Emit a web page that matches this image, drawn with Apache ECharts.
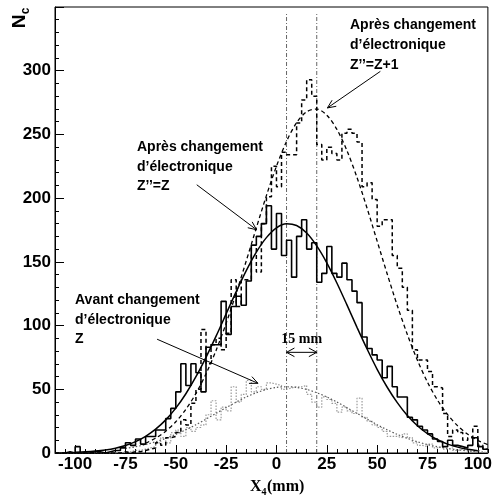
<!DOCTYPE html>
<html><head><meta charset="utf-8">
<script src="https://cdn.jsdelivr.net/npm/echarts@6/dist/echarts.min.js"></script>
<style>html,body{margin:0;padding:0;background:#fff}#c{width:495px;height:500px}</style>
</head><body><div id="c"></div>
<script>
// ---- data ----
const binLeft = [-110,-107.5,-105,-102.5,-100,-97.5,-95,-92.5,-90,-87.5,-85,-82.5,-80,-77.5,-75,-72.5,-70,-67.5,-65,-62.5,
  -60,-57.5,-55,-52.5,-50,-47.5,-45,-42.5,-40,-37.5,-35,-32.5,-30,-27.5,-25,-22.5,-20,-17.5,-15,-12.5,
  -10,-7.5,-5,-2.5,0,2.5,5,7.5,10,12.5,15,17.5,20,22.5,25,27.5,30,32.5,35,37.5,
  40,42.5,45,47.5,50,52.5,55,57.5,60,62.5,65,67.5,70,72.5,75,77.5,80,82.5,85,87.5,
  90,92.5,95,97.5,100,102.5];
const binRight = 105;
// Après changement d'électronique Z''=Z (solid)
const histZZ = [0,0,1,0,5,0,0,1,1,0,1,2,2,4,8,6,11,7,13,13,
  18,18,27,35,48,70,53,70,63,48,83,85,85,119,93,115,123,116,135,163,
  170,180,194,160,188,155,167,138,170,183,160,165,134,141,162,141,138,149,136,127,
  118,91,82,77,73,59,68,52,44,44,28,26,21,18,15,11,9,5,10,6,
  5,4,6,12,5,3];
// Après changement d'électronique Z''=Z+1 (dashed)
const histZZ1 = [0,0,0,0,0,0,0,0,0,0,0,0,0,1,0,1,1,2,3,4,
  8,6,12,13,16,26,22,39,50,97,70,85,90,81,94,136,115,136,136,163,
  142,180,201,225,209,236,234,234,259,277,293,280,242,230,240,235,230,251,254,251,
  244,209,212,199,178,183,183,155,145,130,112,81,73,73,64,52,51,31,13,18,
  16,10,12,21,6,3];
// Avant changement d'électronique Z (dotted)
const histAvant = [0,0,0,0,0,0,0,0,0,0,0,0,0,1,1,2,2,3,4,5,
  8,12,8,16,18,13,20,17,20,22,30,41,26,36,33,52,40,46,57,48,
  52,50,55,54,53,50,51,52,52,53,46,40,36,44,42,39,32,36,33,31,
  43,28,25,22,20,17,13,13,12,15,12,8,6,5,7,4,5,3,4,2,
  3,2,1,2,1,0];
// fitted curves, read every 5 mm
const fitZZX = [-100,-95,-90,-85,-80,-75,-70,-65,-60,-55,-50,-45,-40,-35,-30,-25,-20,-15,-10,-5,0,5,10,15,20,25,30,35,40,45,50,55,60,65,70,75,80,85,90,95,100];
const fitZZY = [0.5,0.9,1.5,2.4,3.8,5.9,8.9,13.1,18.7,26.0,35.2,46.5,59.9,75.1,91.7,109.2,126.6,143.1,157.6,169.0,176.7,179.9,178.5,172.6,162.5,149.2,133.4,116.2,98.6,81.6,65.7,51.6,39.5,29.4,21.4,15.1,10.4,7.0,4.6,2.9,1.8];
const fitZZ1X = [-65,-60,-55,-50,-45,-40,-35,-30,-25,-20,-15,-10,-5,0,5,10,15,20,25,30,35,40,45,50,55,60,65,70,75,80,85,90,95,100,105];
const fitZZ1Y = [7.7,11.6,17.1,24.5,34.3,46.7,62.1,80.5,101.8,125.5,150.8,176.7,202.0,225.1,244.6,259.2,267.8,269.9,265.1,254.0,237.3,216.2,192.1,166.3,140.5,115.7,93.0,72.8,55.6,41.4,30.1,21.3,14.7,9.9,6.5];
const fitAvX = [-75,-70,-65,-60,-55,-50,-45,-40,-35,-30,-25,-20,-15,-10,-5,0,5,10,15,20,25,30,35,40,45,50,55,60,65,70,75,80,85,90,95,100];
const fitAvY = [3.5,4.9,6.6,8.8,11.5,14.6,18.2,22.2,26.6,31.1,35.6,40.0,44.0,47.3,49.9,51.5,52.0,51.5,49.9,47.3,44.0,40.0,35.6,31.1,26.6,22.2,18.2,14.6,11.5,8.8,6.6,4.9,3.5,2.5,1.7,1.2];
const refLinesX = [5, 20];
const refLineTop = 345;
const xMajorTicks = [-100,-75,-50,-25,0,25,50,75,100];
const xMinorTicks = [-110,-105,-100,-95,-90,-85,-80,-75,-70,-65,-60,-55,-50,-45,-40,-35,-30,-25,-20,-15,-10,-5,0,5,10,15,20,25,30,35,40,45,50,55,60,65,70,75,80,85,90,95,100,105];
const yMin = 0, yMax = 350, yStep = 50;
const xMin = -110, xMax = 105;
const widthArrowY = 79;

// ---- chart ----
const SANS = '"Liberation Sans", Arial, sans-serif';
const SERIF = '"Liberation Serif", "Times New Roman", serif';
function hist(vals){ const d = binLeft.map((x,i)=>[x, vals[i]]); d.push([binRight, vals[vals.length-1]]); return d; }
function curve(xs, ys){ return xs.map((x,i)=>[x, ys[i]]); }

const chart = echarts.init(document.getElementById('c'), null, {renderer:'canvas'});
const lineBase = {type:'line', showSymbol:false, symbol:'none', animation:false, silent:true, xAxisIndex:0, yAxisIndex:0};
const series = [
  Object.assign({}, lineBase, {name:'avantHist', step:'end', data:hist(histAvant), lineStyle:{color:'#9a9a9a', width:1.2, type:[1.5,1.5]}, z:2}),
  Object.assign({}, lineBase, {name:'avantFit', smooth:0.3, data:curve(fitAvX, fitAvY), lineStyle:{color:'#555', width:1.2, type:[1.5,2]}, z:3}),
  Object.assign({}, lineBase, {name:'zz1Hist', step:'end', data:hist(histZZ1), lineStyle:{color:'#000', width:1.5, type:[4,3]}, z:4}),
  Object.assign({}, lineBase, {name:'zz1Fit', smooth:0.3, data:curve(fitZZ1X, fitZZ1Y), lineStyle:{color:'#000', width:1.3, type:[4,3]}, z:4}),
  Object.assign({}, lineBase, {name:'zzHist', step:'end', data:hist(histZZ), lineStyle:{color:'#000', width:1.6}, z:5}),
  Object.assign({}, lineBase, {name:'zzFit', smooth:0.3, data:curve(fitZZX, fitZZY), lineStyle:{color:'#000', width:1.5}, z:5})
];
refLinesX.forEach((x,i)=>{
  series.push(Object.assign({}, lineBase, {name:'ref'+i, data:[[x,yMin],[x,refLineTop]], lineStyle:{color:'#666', width:1, type:[4,2,1,2]}, z:1}));
});

const option = {
  animation:false,
  backgroundColor:'#fff',
  grid:{left:55, right:5, top:7, bottom:47, show:true, borderColor:'#000', borderWidth:1, backgroundColor:'transparent'},
  xAxis:[
    {type:'value', min:xMin, max:xMax, gridIndex:0, position:'bottom',
     axisLine:{show:true, onZero:false, lineStyle:{color:'#000', width:1}},
     axisTick:{show:true, inside:true, length:8, customValues:xMajorTicks, lineStyle:{color:'#000'}},
     axisLabel:{show:true, customValues:xMajorTicks, margin:3, color:'#000', fontFamily:SANS, fontWeight:'bold', fontSize:17},
     splitLine:{show:false}},
    {type:'value', min:xMin, max:xMax, gridIndex:0, position:'bottom',
     axisLine:{show:false, onZero:false},
     axisTick:{show:true, inside:true, length:4, customValues:xMinorTicks, lineStyle:{color:'#000'}},
     axisLabel:{show:false}, splitLine:{show:false}}
  ],
  yAxis:[{type:'value', min:yMin, max:yMax, interval:yStep, gridIndex:0,
    axisLine:{show:true, onZero:false, lineStyle:{color:'#000', width:1}},
    axisTick:{show:true, inside:true, length:9, lineStyle:{color:'#000'}},
    minorTick:{show:true, splitNumber:5, length:4, lineStyle:{color:'#000'}},
    axisLabel:{margin:4, color:'#000', fontFamily:SANS, fontWeight:'bold', fontSize:17,
      formatter:(v)=> v >= yMax ? '' : String(v)},
    splitLine:{show:false}}],
  series:series
};
chart.setOption(option);

// ---- annotations ----
const P = (x,y)=>chart.convertToPixel({xAxisIndex:0, yAxisIndex:0}, [x,y]);
function arrowHead(p0, p1, h, a){
  const dx=p1[0]-p0[0], dy=p1[1]-p0[1], L=Math.hypot(dx,dy), ux=dx/L, uy=dy/L;
  const c=Math.cos(a), s=Math.sin(a);
  const l=[p1[0]-h*(ux*c-uy*s), p1[1]-h*(ux*s+uy*c)];
  const r=[p1[0]-h*(ux*c+uy*s), p1[1]-h*(-ux*s+uy*c)];
  return {type:'polyline', shape:{points:[l,p1,r]}, style:{stroke:'#000', lineWidth:1, fill:null}, z:100};
}
function arrow(a, b){
  const p0=P(a[0],a[1]), p1=P(b[0],b[1]);
  return [{type:'line', shape:{x1:p0[0],y1:p0[1],x2:p1[0],y2:p1[1]}, style:{stroke:'#000', lineWidth:1}, z:100},
          arrowHead(p0,p1,9,0.42)];
}
function label(x, y, text, font, align){
  return {type:'text', x:x, y:y, z:100, style:{text:text, font:font, fill:'#000', align:align||'left', verticalAlign:'middle'}};
}
const F14 = 'bold 14px ' + SANS;
const g = [];
// Z''=Z+1
g.push(label(350, 25, 'Après changement', F14), label(350, 45, 'd’électronique', F14), label(350, 65, 'Z’’=Z+1', F14));
g.push(...arrow([51.6, 299.5], [25.3, 270.8]));
// Z''=Z
g.push(label(137, 147, 'Après changement', F14), label(137, 167, 'd’électronique', F14), label(137, 186, 'Z’’=Z', F14));
g.push(...arrow([-39.6, 210.5], [-9.9, 175.2]));
// Avant
g.push(label(75, 300, 'Avant changement', F14), label(75, 320, 'd’électronique', F14), label(75, 339, 'Z', F14));
g.push(...arrow([-59.3, 89.3], [-9.2, 54.7]));
// 15 mm double arrow
{
  const a=P(refLinesX[0], widthArrowY), b=P(refLinesX[1], widthArrowY);
  g.push({type:'line', shape:{x1:a[0],y1:a[1],x2:b[0],y2:b[1]}, style:{stroke:'#000', lineWidth:1}, z:100});
  g.push(arrowHead(a,b,9,0.5), arrowHead(b,a,9,0.5));
  const m=P((refLinesX[0]+refLinesX[1])/2, widthArrowY);
  g.push(label(m[0], m[1]-13, '15 mm', 'bold 14px ' + SERIF, 'center'));
}
// axis titles
g.push({type:'text', x:20, y:21.5, rotation:Math.PI/2, z:100, style:{text:'N', font:'bold 19px ' + SANS, fill:'#000', align:'center', verticalAlign:'middle'}});
g.push({type:'text', x:25.5, y:11, rotation:Math.PI/2, z:100, style:{text:'c', font:'bold 12px ' + SANS, fill:'#000', align:'center', verticalAlign:'middle'}});
g.push(label(250, 486.5, 'X', 'bold 16px ' + SERIF));
g.push(label(261.5, 492, '4', 'bold 10px ' + SERIF));
g.push(label(267, 486.5, '(mm)', 'bold 16px ' + SERIF));
chart.setOption({graphic:g});
</script>
</body></html>
